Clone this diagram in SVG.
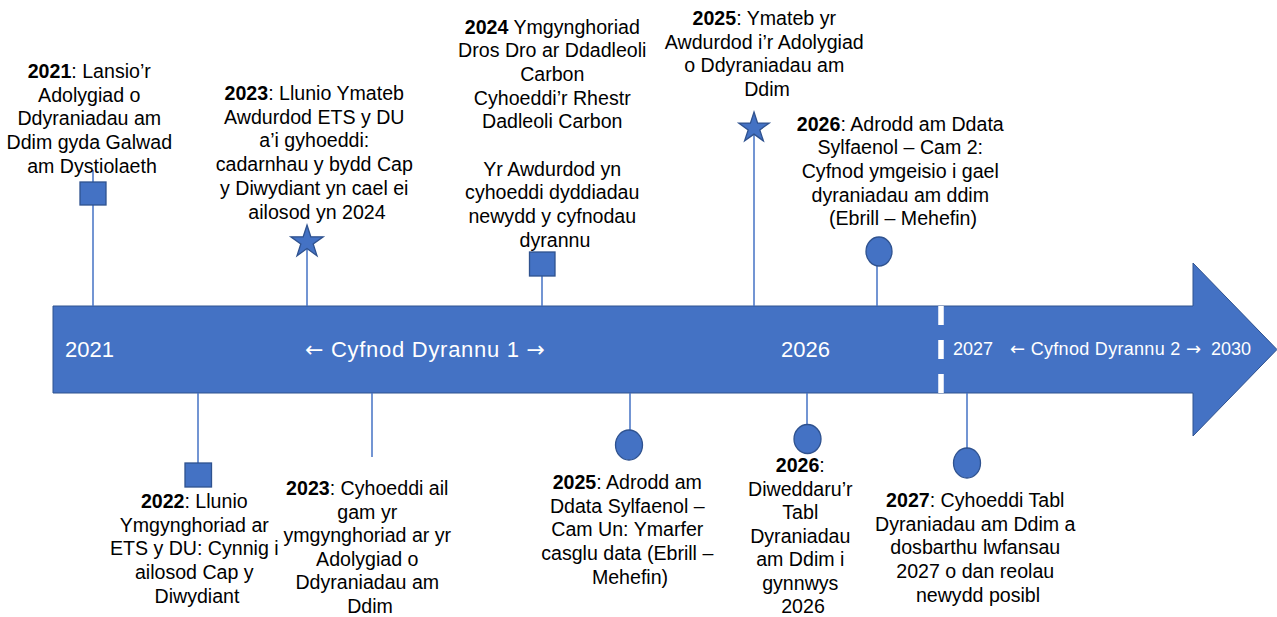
<svg xmlns="http://www.w3.org/2000/svg" width="1277" height="617" viewBox="0 0 1277 617">
<style>
  text { font-family: "Liberation Sans", Arial, sans-serif; }
  .lbl { font-size: 19.6px; fill: #000; text-anchor: middle; }
  .yr { font-weight: bold; }
  .band { font-size: 22px; fill: #fff; }
  .band2 { font-size: 18px; fill: #fff; }
  .arw { font-family: "DejaVu Sans", sans-serif; }
  .stem { stroke: #4472C4; stroke-width: 1.5; fill: none; }
  .mk { fill: #4472C4; stroke: #2F528F; stroke-width: 1.3; }
</style>
<rect width="1277" height="617" fill="#fff"/>

<g id="timeline-arrow">
  <polygon points="53,306 1193,306 1193,263 1277,349.5 1193,436 1193,393 53,393" fill="#4472C4" stroke="#2F528F" stroke-width="1"/>
  <line x1="941" y1="306" x2="941" y2="393" stroke="#fff" stroke-width="5.5" stroke-dasharray="19 15"/>
  <text class="band" x="65" y="357">2021</text>
  <text class="band" x="425" y="357" text-anchor="middle" textLength="240" lengthAdjust="spacing"><tspan class="arw">←</tspan> Cyfnod Dyrannu 1 <tspan class="arw">→</tspan></text>
  <text class="band" x="781" y="357">2026</text>
  <text class="band2" x="953" y="355">2027</text>
  <text class="band2" x="1010" y="355" textLength="191" lengthAdjust="spacing"><tspan class="arw">←</tspan> Cyfnod Dyrannu 2 <tspan class="arw">→</tspan></text>
  <text class="band2" x="1211" y="355">2030</text>
</g>

<g id="connectors">
  <line class="stem" x1="93" y1="170" x2="93" y2="306"/>
  <line class="stem" x1="307" y1="248" x2="307" y2="306"/>
  <line class="stem" x1="542" y1="270" x2="542" y2="306"/>
  <line class="stem" x1="754" y1="130" x2="754" y2="306"/>
  <line class="stem" x1="877" y1="255" x2="877" y2="306"/>
  <line class="stem" x1="198" y1="393" x2="198" y2="470"/>
  <line class="stem" x1="372" y1="393" x2="372" y2="457"/>
  <line class="stem" x1="630" y1="393" x2="630" y2="440"/>
  <line class="stem" x1="807" y1="393" x2="807" y2="435"/>
  <line class="stem" x1="967" y1="393" x2="967" y2="455"/>
</g>

<g id="event-2021">
  <rect class="mk" x="80" y="182" width="26" height="23"/>
  <text class="lbl" x="92">
    <tspan x="92" y="78"><tspan class="yr">2021</tspan>: Lansio’r</tspan>
    <tspan x="92" y="101.7">Adolygiad o</tspan>
    <tspan x="92" y="125.4">Ddyraniadau am</tspan>
    <tspan x="92" y="149.1">Ddim gyda Galwad</tspan>
    <tspan x="92" y="172.8">am Dystiolaeth</tspan>
  </text>
</g>

<g id="event-2023-top">
  <polygon class="mk" points="307,225 310.8,236.8 323.2,236.8 313.2,244 317,255.8 307,248.5 297,255.8 300.8,244 290.8,236.8 303.2,236.8"/>
  <text class="lbl">
    <tspan x="317" y="100"><tspan class="yr">2023</tspan>: Llunio Ymateb</tspan>
    <tspan x="317" y="123.7">Awdurdod ETS y DU</tspan>
    <tspan x="317" y="147.4">a’i gyhoeddi:</tspan>
    <tspan x="317" y="171.1">cadarnhau y bydd Cap</tspan>
    <tspan x="317" y="194.8">y Diwydiant yn cael ei</tspan>
    <tspan x="317" y="218.5">ailosod yn 2024</tspan>
  </text>
</g>

<g id="event-2024">
  <rect class="mk" x="529.5" y="252" width="25.5" height="24"/>
  <text class="lbl">
    <tspan x="555" y="33.5"><tspan class="yr">2024</tspan> Ymgynghoriad</tspan>
    <tspan x="555" y="57.2">Dros Dro ar Ddadleoli</tspan>
    <tspan x="555" y="80.9">Carbon</tspan>
    <tspan x="555" y="104.6">Cyhoeddi’r Rhestr</tspan>
    <tspan x="555" y="128.3">Dadleoli Carbon</tspan>
    <tspan x="555" y="175.7">Yr Awdurdod yn</tspan>
    <tspan x="555" y="199.4">cyhoeddi dyddiadau</tspan>
    <tspan x="555" y="223.1">newydd y cyfnodau</tspan>
    <tspan x="555" y="246.8">dyrannu</tspan>
  </text>
</g>

<g id="event-2025-top">
  <polygon class="mk" points="754,112 757.6,123.1 769.2,123.1 759.8,129.9 763.4,140.9 754,134.1 744.6,140.9 748.2,129.9 738.8,123.1 750.4,123.1"/>
  <text class="lbl">
    <tspan x="767" y="25"><tspan class="yr">2025</tspan>: Ymateb yr</tspan>
    <tspan x="767" y="48.7">Awdurdod i’r Adolygiad</tspan>
    <tspan x="767" y="72.4">o Ddyraniadau am</tspan>
    <tspan x="767" y="96.1">Ddim</tspan>
  </text>
</g>

<g id="event-2026-top">
  <ellipse class="mk" cx="879" cy="251.5" rx="13" ry="14.5"/>
  <text class="lbl">
    <tspan x="903" y="130.5"><tspan class="yr">2026</tspan>: Adrodd am Ddata</tspan>
    <tspan x="903" y="154.2">Sylfaenol – Cam 2:</tspan>
    <tspan x="903" y="177.9">Cyfnod ymgeisio i gael</tspan>
    <tspan x="903" y="201.6">dyraniadau am ddim</tspan>
    <tspan x="903" y="225.3">(Ebrill – Mehefin)</tspan>
  </text>
</g>

<g id="event-2022">
  <rect class="mk" x="185" y="463" width="26.5" height="24"/>
  <text class="lbl">
    <tspan x="197" y="508"><tspan class="yr">2022</tspan>: Llunio</tspan>
    <tspan x="197" y="531.7">Ymgynghoriad ar</tspan>
    <tspan x="197" y="555.4">ETS y DU: Cynnig i</tspan>
    <tspan x="197" y="579.1">ailosod Cap y</tspan>
    <tspan x="197" y="602.8">Diwydiant</tspan>
  </text>
</g>

<g id="event-2023-bottom">
  <text class="lbl">
    <tspan x="370" y="495"><tspan class="yr">2023</tspan>: Cyhoeddi ail</tspan>
    <tspan x="370" y="518.6">gam yr</tspan>
    <tspan x="370" y="542.2">ymgynghoriad ar yr</tspan>
    <tspan x="370" y="565.8">Adolygiad o</tspan>
    <tspan x="370" y="589.4">Ddyraniadau am</tspan>
    <tspan x="370" y="613">Ddim</tspan>
  </text>
</g>

<g id="event-2025-bottom">
  <ellipse class="mk" cx="629" cy="445" rx="13.5" ry="15"/>
  <text class="lbl">
    <tspan x="630" y="489"><tspan class="yr">2025</tspan>: Adrodd am</tspan>
    <tspan x="630" y="512.7">Ddata Sylfaenol –</tspan>
    <tspan x="630" y="536.4">Cam Un: Ymarfer</tspan>
    <tspan x="630" y="560.1">casglu data (Ebrill –</tspan>
    <tspan x="630" y="583.8">Mehefin)</tspan>
  </text>
</g>

<g id="event-2026-bottom">
  <ellipse class="mk" cx="807.5" cy="439" rx="13.5" ry="14.5"/>
  <text class="lbl">
    <tspan x="803" y="472"><tspan class="yr">2026</tspan>:</tspan>
    <tspan x="803" y="495.5">Diweddaru’r</tspan>
    <tspan x="803" y="519">Tabl</tspan>
    <tspan x="803" y="542.5">Dyraniadau</tspan>
    <tspan x="803" y="566">am Ddim i</tspan>
    <tspan x="803" y="589.5">gynnwys</tspan>
    <tspan x="803" y="613">2026</tspan>
  </text>
</g>

<g id="event-2027">
  <ellipse class="mk" cx="967" cy="463" rx="13.5" ry="15"/>
  <text class="lbl">
    <tspan x="978" y="507"><tspan class="yr">2027</tspan>: Cyhoeddi Tabl</tspan>
    <tspan x="978" y="530.7">Dyraniadau am Ddim a</tspan>
    <tspan x="978" y="554.4">dosbarthu lwfansau</tspan>
    <tspan x="978" y="578.1">2027 o dan reolau</tspan>
    <tspan x="978" y="601.8">newydd posibl</tspan>
  </text>
</g>
</svg>
